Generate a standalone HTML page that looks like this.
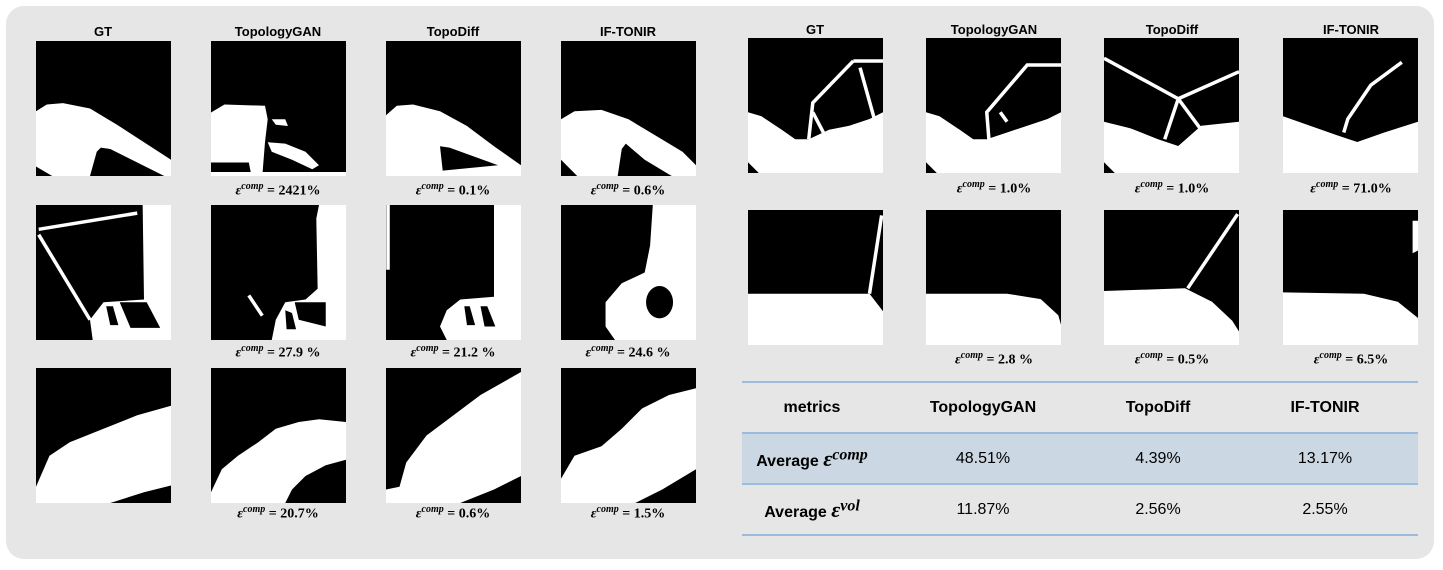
<!DOCTYPE html>
<html><head><meta charset="utf-8">
<style>
html,body{margin:0;padding:0;background:#fff;}
body{width:1443px;height:570px;position:relative;overflow:hidden;font-family:"Liberation Sans",sans-serif;}
#panel{position:absolute;left:6px;top:6px;width:1428px;height:553px;background:#e6e6e6;border-radius:18px;}
.t{position:absolute;font-weight:bold;font-size:13px;text-align:center;width:160px;transform:translateX(-50%);}
.c{position:absolute;font-family:"Liberation Serif",serif;font-weight:bold;font-size:14px;text-align:center;width:160px;transform:translateX(-50%);white-space:nowrap;}
.c i{font-style:italic;}
.c sup{font-style:italic;font-size:10px;}
table{position:absolute;left:742px;top:381px;width:676px;border-collapse:collapse;table-layout:fixed;font-family:"Liberation Sans Narrow","Liberation Sans",sans-serif;font-size:16px;}
td{text-align:center;height:49px;padding:0;border-top:2px solid #9dbbdc;}
tr:last-child td{border-bottom:2px solid #9dbbdc;}
tr.h td{font-weight:bold;}
tr.hl td{background:#cbd7e2;}
td.m{font-weight:bold;}
td.m i{font-family:"Liberation Serif",serif;font-size:22px;}
td.m sup{font-family:"Liberation Serif",serif;font-style:italic;font-size:16px;}
</style></head><body>
<div id="panel"></div>
<svg id="imgs" width="1443" height="570" style="position:absolute;left:0;top:0"></svg>

<div class="t" style="left:103px;top:24px">GT</div>
<div class="t" style="left:278px;top:24px">TopologyGAN</div>
<div class="t" style="left:453px;top:24px">TopoDiff</div>
<div class="t" style="left:628px;top:24px">IF-TONIR</div>
<div class="t" style="left:815px;top:22px">GT</div>
<div class="t" style="left:994px;top:22px">TopologyGAN</div>
<div class="t" style="left:1172px;top:22px">TopoDiff</div>
<div class="t" style="left:1351px;top:22px">IF-TONIR</div>

<div class="c" style="left:278px;top:181px"><i>ε</i><sup>comp</sup> = 2421%</div>
<div class="c" style="left:453px;top:181px"><i>ε</i><sup>comp</sup> = 0.1%</div>
<div class="c" style="left:628px;top:181px"><i>ε</i><sup>comp</sup> = 0.6%</div>
<div class="c" style="left:278px;top:343px"><i>ε</i><sup>comp</sup> = 27.9 %</div>
<div class="c" style="left:453px;top:343px"><i>ε</i><sup>comp</sup> = 21.2 %</div>
<div class="c" style="left:628px;top:343px"><i>ε</i><sup>comp</sup> = 24.6 %</div>
<div class="c" style="left:278px;top:504px"><i>ε</i><sup>comp</sup> = 20.7%</div>
<div class="c" style="left:453px;top:504px"><i>ε</i><sup>comp</sup> = 0.6%</div>
<div class="c" style="left:628px;top:504px"><i>ε</i><sup>comp</sup> = 1.5%</div>
<div class="c" style="left:994px;top:179px"><i>ε</i><sup>comp</sup> = 1.0%</div>
<div class="c" style="left:1172px;top:179px"><i>ε</i><sup>comp</sup> = 1.0%</div>
<div class="c" style="left:1351px;top:179px"><i>ε</i><sup>comp</sup> = 71.0%</div>
<div class="c" style="left:994px;top:350px"><i>ε</i><sup>comp</sup> = 2.8 %</div>
<div class="c" style="left:1172px;top:350px"><i>ε</i><sup>comp</sup> = 0.5%</div>
<div class="c" style="left:1351px;top:350px"><i>ε</i><sup>comp</sup> = 6.5%</div>

<table>
<colgroup><col style="width:140px"><col style="width:202px"><col style="width:148px"><col style="width:186px"></colgroup>
<tr class="h"><td>metrics</td><td>TopologyGAN</td><td>TopoDiff</td><td>IF-TONIR</td></tr>
<tr class="hl"><td class="m">Average <i>ε</i><sup>comp</sup></td><td>48.51%</td><td>4.39%</td><td>13.17%</td></tr>
<tr><td class="m">Average <i>ε</i><sup>vol</sup></td><td>11.87%</td><td>2.56%</td><td>2.55%</td></tr>
</table>

<script>
const NS="http://www.w3.org/2000/svg";
const root=document.getElementById('imgs');
const imgs=[
 {n:'l1-gt',x:36,y:41,p:[["0,52 8,47 20,46 40,50 60,62 80,75 100,88 100,100 95,100 75,90 55,80 48,79 45,82 40,100 12,100 0,93",1]],l:[]},
 {n:'l1-topologygan',x:211,y:41,p:[["0,53 10,47 40,48 42,58 40,75 38,100 30,100 28,90 0,90",1],["45,58 55,58 57,63 48,62",1],["42,75 55,76 70,82 80,92 75,95 60,88 45,82",1],["0,97 100,97 100,100 0,100",1]],l:[]},
 {n:'l1-topodiff',x:386,y:41,p:[["0,55 8,48 20,47 40,52 60,63 80,78 100,92 100,100 0,100",1],["40,78 47,79 83,92 42,96",0]],l:[]},
 {n:'l1-iftonir',x:561,y:41,p:[["0,58 10,52 30,51 50,58 70,70 90,82 100,92 100,100 82,100 62,88 48,76 45,80 42,100 0,100",1],["0,88 12,100 0,100",0]],l:[]},
 {n:'l2-gt',x:36,y:205,p:[["79,0 100,0 100,100 42,100 40,85 50,72 80,70",1],["52,75 57,75 61,89 55,89",0],["62,72 82,72 92,91 70,91",0]],l:[["2,18 75,6"],["2,22 40,85"]]},
 {n:'l2-topologygan',x:211,y:205,p:[["80,0 100,0 100,100 45,100 48,85 55,72 70,70 79,62 78,10",1],["55,78 60,80 63,92 56,92",0],["62,72 85,72 85,90 65,85",0]],l:[["28,67 38,82"]]},
 {n:'l2-topodiff',x:386,y:205,p:[["80,0 100,0 100,100 45,100 40,90 45,78 55,70 80,68",1],["58,75 62,75 66,89 60,89",0],["70,75 75,75 81,90 73,90",0]],l:[["1.5,0 1.5,48"]]},
 {n:'l2-iftonir',x:561,y:205,p:[["68,0 100,0 100,100 40,100 33,90 33,72 45,58 62,50 66,30",1]],e:[73,72,10,12],l:[]},
 {n:'l3-gt',x:36,y:368,p:[["0,88 10,65 25,55 50,45 75,35 100,28 100,87 80,92 55,100 0,100",1]],l:[]},
 {n:'l3-topologygan',x:211,y:368,p:[["0,92 8,75 20,65 35,55 48,45 65,40 80,38 100,40 100,68 85,72 70,80 60,90 55,100 0,100",1]],l:[]},
 {n:'l3-topodiff',x:386,y:368,p:[["0,90 10,88 15,70 30,50 50,35 70,20 100,3 100,80 80,90 55,100 0,100",1]],l:[]},
 {n:'l3-iftonir',x:561,y:368,p:[["0,82 10,65 30,58 45,45 60,30 80,20 100,15 100,75 75,90 55,100 0,100",1]],l:[]},
 {n:'r1-gt',x:748,y:38,p:[["0,55 10,58 25,68 35,75 45,75 60,68 75,65 90,60 100,55 100,100 8,100 0,92",1]],l:[["78,17 100,17"],["78,17 48,48 45,75"],["48,55 60,78"],["83,22 95,65"]]},
 {n:'r1-topologygan',x:926,y:38,p:[["0,55 10,58 25,68 35,75 45,75 60,70 75,65 90,60 100,55 100,100 8,100 0,92",1]],l:[["100,20 75,20 45,55 47,80"],["55,55 60,62"]]},
 {n:'r1-topodiff',x:1104,y:38,p:[["0,62 20,67 40,75 55,80 72,65 100,62 100,100 8,100 0,92",1]],l:[["0,15 55,45 100,25"],["55,45 45,75"],["55,45 72,68"]]},
 {n:'r1-iftonir',x:1283,y:38,p:[["0,58 20,65 40,72 55,77 75,70 100,62 100,100 0,100",1]],l:[["88,18 65,35 48,60 45,70"]]},
 {n:'r2-gt',x:748,y:210,p:[["0,62 80,62 90,62 100,75 100,100 0,100",1]],l:[["99,4 90,62"]]},
 {n:'r2-topologygan',x:926,y:210,p:[["0,62 60,62 85,66 98,78 100,85 100,100 0,100",1]],l:[]},
 {n:'r2-topodiff',x:1104,y:210,p:[["0,60 60,58 80,68 95,82 100,90 100,100 0,100",1]],l:[["99,3 62,58"]]},
 {n:'r2-iftonir',x:1283,y:210,p:[["0,61 60,62 85,68 100,80 100,100 0,100",1],["96,8 100,8 100,30 96,32",1]],l:[]}
];
for(const im of imgs){
  const s=document.createElementNS(NS,'svg');
  
  
  s.setAttribute('x',im.x);s.setAttribute('y',im.y);
  s.setAttribute('width',135);s.setAttribute('height',135);
  s.setAttribute('viewBox','0 0 100 100');s.setAttribute('preserveAspectRatio','none');
  const bg=document.createElementNS(NS,'rect');
  bg.setAttribute('width',100);bg.setAttribute('height',100);bg.setAttribute('fill','#000');
  s.appendChild(bg);
  for(const [pts,w] of im.p){
    const p=document.createElementNS(NS,'polygon');
    p.setAttribute('points',pts);p.setAttribute('fill',w?'#fff':'#000');
    s.appendChild(p);
  }
  if(im.e){
    const e=document.createElementNS(NS,'ellipse');
    e.setAttribute('cx',im.e[0]);e.setAttribute('cy',im.e[1]);e.setAttribute('rx',im.e[2]);e.setAttribute('ry',im.e[3]);
    e.setAttribute('fill','#000');s.appendChild(e);
  }
  for(const [pts] of im.l){
    const l=document.createElementNS(NS,'polyline');
    l.setAttribute('points',pts);l.setAttribute('fill','none');l.setAttribute('stroke','#fff');l.setAttribute('stroke-width',2.6);
    s.appendChild(l);
  }
  root.appendChild(s);
}
</script>
</body></html>
